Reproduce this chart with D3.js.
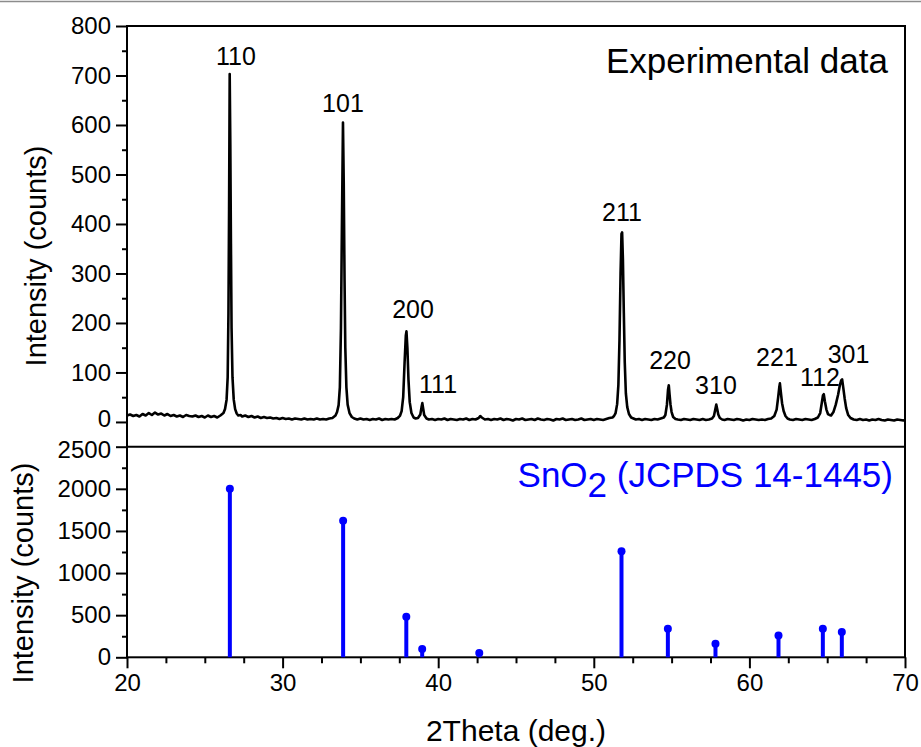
<!DOCTYPE html>
<html>
<head>
<meta charset="utf-8">
<script src="https://cdn.jsdelivr.net/npm/d3@7"></script>
<style>
  body { margin: 0; background: #fff; }
  svg { font-family: "Liberation Sans", Arial, sans-serif; }
  .axis path, .axis line { stroke: #000; stroke-width: 2; }
  .axis text { font-size: 24px; fill: #000; }
</style>
</head>
<body>
<svg id="chart" width="921" height="747"></svg>
<script>
// Experimental XRD pattern [2theta, counts]
const expData = [
  [20.0, 13], [20.2, 15], [20.4, 12], [20.6, 14], [20.8, 11], [21.0, 16], [21.2, 13], [21.4, 18],
  [21.6, 14], [21.8, 19], [22.0, 15], [22.2, 17], [22.4, 13], [22.6, 16], [22.8, 12], [23.0, 14],
  [23.2, 11], [23.4, 13], [23.6, 10], [23.8, 14], [24.0, 12], [24.2, 11], [24.4, 13], [24.6, 10],
  [24.8, 12], [25.0, 9], [25.2, 13], [25.4, 10], [25.6, 12], [25.8, 9], [26.0, 13], [26.2, 18],
  [26.3, 26], [26.4, 45], [26.47, 90], [26.52, 220], [26.56, 430], [26.6, 703], [26.64, 560],
  [26.68, 360], [26.72, 190], [26.78, 90], [26.86, 45], [26.95, 26], [27.05, 17], [27.15, 13],
  [27.3, 14], [27.4, 11], [27.6, 13], [27.8, 10], [28.0, 12], [28.2, 9], [28.4, 11], [28.6, 8],
  [28.8, 10], [29.0, 8], [29.2, 9], [29.4, 7], [29.6, 8], [29.8, 6], [30.0, 8], [30.2, 6],
  [30.4, 7], [30.6, 5], [30.8, 7], [31.0, 6], [31.2, 5], [31.4, 7], [31.6, 5], [31.8, 6],
  [32.0, 5], [32.2, 7], [32.4, 5], [32.6, 6], [32.8, 5], [33.0, 7], [33.2, 8], [33.4, 13],
  [33.5, 20], [33.6, 34], [33.68, 70], [33.75, 190], [33.81, 390], [33.88, 605], [33.93, 480],
  [33.98, 290], [34.03, 150], [34.1, 70], [34.18, 35], [34.3, 18], [34.45, 10], [34.6, 7],
  [34.8, 5], [35.0, 7], [35.2, 5], [35.4, 6], [35.6, 4], [35.8, 6], [36.0, 5], [36.2, 7],
  [36.4, 4], [36.6, 6], [36.8, 5], [37.0, 6], [37.2, 5], [37.4, 8], [37.55, 13],
  [37.65, 22], [37.75, 50], [37.84, 120], [37.92, 175], [37.96, 183], [38.02, 150], [38.09, 85],
  [38.17, 40], [38.28, 18], [38.42, 9], [38.55, 7], [38.7, 8], [38.85, 15], [38.93, 30], [38.98, 38],
  [39.03, 28], [39.1, 14], [39.25, 7], [39.4, 5], [39.6, 6], [39.8, 4], [40.0, 6], [40.2, 5],
  [40.4, 7], [40.6, 4], [40.8, 6], [41.0, 5], [41.2, 4], [41.4, 6], [41.6, 5], [41.8, 7],
  [42.0, 4], [42.2, 6], [42.4, 5], [42.6, 8], [42.7, 12], [42.8, 9], [43.0, 5], [43.2, 6],
  [43.4, 4], [43.6, 6], [43.8, 5], [44.0, 7], [44.2, 4], [44.4, 6], [44.6, 5], [44.8, 3],
  [45.0, 6], [45.2, 5], [45.4, 7], [45.6, 4], [45.8, 5], [46.0, 6], [46.2, 4], [46.4, 7],
  [46.6, 5], [46.8, 4], [47.0, 6], [47.2, 5], [47.4, 3], [47.6, 6], [47.8, 5], [48.0, 7],
  [48.2, 4], [48.4, 5], [48.6, 6], [48.8, 4], [49.0, 5], [49.2, 7], [49.4, 4], [49.6, 5],
  [49.8, 6], [50.0, 4], [50.2, 6], [50.4, 5], [50.6, 4], [50.8, 6], [51.0, 8], [51.2, 9],
  [51.3, 12], [51.4, 18], [51.5, 36], [51.58, 75], [51.65, 165], [51.72, 300], [51.78, 380],
  [51.82, 383], [51.87, 330], [51.93, 220], [51.99, 120], [52.06, 58], [52.15, 30], [52.26, 16],
  [52.4, 9], [52.55, 7], [52.7, 5], [52.9, 6], [53.1, 4], [53.3, 6], [53.5, 5], [53.7, 4], [53.9, 6],
  [54.1, 5], [54.3, 7], [54.5, 9], [54.6, 14], [54.7, 35], [54.77, 65], [54.82, 74],
  [54.87, 55], [54.93, 35], [55.0, 20], [55.1, 10], [55.25, 6], [55.4, 5], [55.6, 4],
  [55.8, 6], [56.0, 5], [56.2, 4], [56.4, 6], [56.6, 5], [56.8, 4], [57.0, 6], [57.2, 4],
  [57.4, 5], [57.6, 7], [57.72, 12], [57.8, 24], [57.87, 35], [57.93, 26], [58.0, 15],
  [58.1, 8], [58.25, 5], [58.4, 4], [58.6, 6], [58.8, 5], [59.0, 4], [59.2, 6], [59.4, 5],
  [59.6, 3], [59.8, 5], [60.0, 4], [60.2, 6], [60.4, 5], [60.6, 4], [60.8, 5], [61.0, 4],
  [61.2, 6], [61.4, 7], [61.6, 12], [61.75, 25], [61.85, 50], [61.92, 70], [61.96, 78],
  [62.02, 60], [62.1, 38], [62.2, 22], [62.32, 12], [62.45, 7], [62.6, 5], [62.8, 4],
  [63.0, 6], [63.2, 5], [63.4, 4], [63.6, 6], [63.8, 5], [64.0, 4], [64.2, 6], [64.4, 9],
  [64.55, 18], [64.65, 38], [64.73, 54], [64.78, 56], [64.85, 42], [64.95, 25], [65.05, 16],
  [65.15, 14], [65.25, 13], [65.4, 20], [65.55, 35], [65.7, 55], [65.82, 75], [65.9, 84],
  [65.96, 86], [66.03, 70], [66.12, 48], [66.22, 28], [66.35, 14], [66.5, 8], [66.7, 5],
  [66.9, 4], [67.1, 6], [67.3, 4], [67.5, 5], [67.7, 3], [67.9, 5], [68.1, 4], [68.3, 6],
  [68.5, 4], [68.7, 3], [68.9, 5], [69.1, 4], [69.3, 3], [69.5, 5], [69.7, 4], [69.9, 3], [70.0, 4]
];

// Peak labels (hkl) and where they sit, in data coordinates
const hklLabels = ["110", "101", "200", "111", "211", "220", "310", "221", "112", "301"];
const hklTheta  = [27.0, 33.88, 38.38, 39.99, 51.81, 54.9, 57.85, 61.77, 64.54, 66.37];
const hklCounts = [721, 627, 210, 58, 406, 106, 56, 113, 73, 120];

// SnO2 reference pattern (JCPDS 14-1445)
const refTheta  = [26.61, 33.89, 37.95, 38.97, 42.64, 51.78, 54.76, 57.82, 61.87, 64.72, 65.94];
const refCounts = [2000, 1620, 480, 100, 50, 1260, 340, 160, 260, 340, 300];

const xTicks = [20, 30, 40, 50, 60, 70];
const topTicks = [0, 100, 200, 300, 400, 500, 600, 700, 800];
const botTicks = [0, 500, 1000, 1500, 2000, 2500];

const left = 127, right = 905;
const topY0 = 26, split = 446.7, botY1 = 657.3;

const svg = d3.select("#chart");

// thin grey border line at very top of the picture
svg.append("line")
  .attr("x1", 0).attr("x2", 921).attr("y1", 1.5).attr("y2", 1.5)
  .attr("stroke", "#8c8c8c").attr("stroke-width", 1.5);

const x = d3.scaleLinear().domain([20, 70]).range([left, right]);
const yTop = d3.scaleLinear().domain([-50, 800]).range([split, topY0]);
const yBot = d3.scaleLinear().domain([0, 2500]).range([botY1, split]);
const fmt = d3.format("d");

// Top panel axes
svg.append("g")
  .attr("class", "axis")
  .attr("transform", `translate(${left},0)`)
  .call(d3.axisLeft(yTop).tickValues(topTicks).tickFormat(fmt).tickSize(11).tickPadding(5).tickSizeOuter(0))
  .call(g => g.select(".domain").remove())
  .call(g => g.selectAll(".tick text").filter(d => d === 0).attr("dy", "0.2em"));

svg.append("g")
  .attr("class", "axis")
  .attr("transform", `translate(${left},0)`)
  .call(d3.axisLeft(yTop).tickValues(d3.range(50, 800, 100)).tickSize(5).tickFormat(""))
  .call(g => g.select(".domain").remove());

// Bottom panel axes
svg.append("g")
  .attr("class", "axis")
  .attr("transform", `translate(${left},0)`)
  .call(d3.axisLeft(yBot).tickValues(botTicks).tickFormat(fmt).tickSize(11).tickPadding(5).tickSizeOuter(0))
  .call(g => g.select(".domain").remove())
  .call(g => g.selectAll(".tick text").filter(d => d === 2500).attr("dy", "0.45em"));

svg.append("g")
  .attr("class", "axis")
  .attr("transform", `translate(${left},0)`)
  .call(d3.axisLeft(yBot).tickValues(d3.range(250, 2500, 500)).tickSize(5).tickFormat(""))
  .call(g => g.select(".domain").remove());

svg.append("g")
  .attr("class", "axis")
  .attr("transform", `translate(0,${botY1})`)
  .call(d3.axisBottom(x).tickValues(xTicks).tickFormat(fmt).tickSize(11).tickPadding(6).tickSizeOuter(0))
  .call(g => g.select(".domain").remove());

svg.append("g")
  .attr("class", "axis")
  .attr("transform", `translate(0,${botY1})`)
  .call(d3.axisBottom(x).tickValues(d3.range(22.5, 70, 2.5).filter(v => v % 10 !== 0)).tickSize(6).tickFormat(""))
  .call(g => g.select(".domain").remove());

// Frames
svg.append("rect")
  .attr("x", left).attr("y", topY0)
  .attr("width", right - left).attr("height", botY1 - topY0)
  .attr("fill", "none").attr("stroke", "#000").attr("stroke-width", 2);

svg.append("line")
  .attr("x1", left).attr("x2", right).attr("y1", split).attr("y2", split)
  .attr("stroke", "#000").attr("stroke-width", 2);

// Experimental curve
const line = d3.line()
  .x(d => x(d[0]))
  .y(d => yTop(d[1]));

svg.append("path")
  .datum(expData)
  .attr("d", line)
  .attr("fill", "none")
  .attr("stroke", "#000")
  .attr("stroke-width", 2.6)
  .attr("stroke-linejoin", "round");

// hkl labels
svg.append("g")
  .selectAll("text")
  .data(hklLabels)
  .join("text")
  .attr("x", (d, i) => x(hklTheta[i]))
  .attr("y", (d, i) => yTop(hklCounts[i]))
  .attr("text-anchor", "middle")
  .attr("font-size", "25px")
  .text(d => d);

svg.append("text")
  .attr("x", 888)
  .attr("y", 73)
  .attr("text-anchor", "end")
  .attr("font-size", "35px")
  .text("Experimental data");

// Reference sticks
const refs = refTheta.map((t, i) => ({ t: t, c: refCounts[i] }));

svg.append("g")
  .selectAll("line")
  .data(refs)
  .join("line")
  .attr("x1", d => x(d.t)).attr("x2", d => x(d.t))
  .attr("y1", d => yBot(0)).attr("y2", d => yBot(d.c))
  .attr("stroke", "#0000ff")
  .attr("stroke-width", 4);

svg.append("g")
  .selectAll("circle")
  .data(refs)
  .join("circle")
  .attr("cx", d => x(d.t))
  .attr("cy", d => yBot(d.c))
  .attr("r", 4)
  .attr("fill", "#0000ff");

const legend = svg.append("text")
  .attr("x", 893)
  .attr("y", 487)
  .attr("text-anchor", "end")
  .attr("font-size", "35px")
  .attr("fill", "#0000ff");
legend.append("tspan").text("SnO");
legend.append("tspan").attr("dy", 10).text("2");
legend.append("tspan").attr("dy", -10).text(" (JCPDS 14-1445)");

// Axis titles
svg.append("text")
  .attr("transform", `translate(46,256) rotate(-90)`)
  .attr("text-anchor", "middle")
  .attr("font-size", "29px")
  .text("Intensity (counts)");

svg.append("text")
  .attr("transform", `translate(33,573) rotate(-90)`)
  .attr("text-anchor", "middle")
  .attr("font-size", "29px")
  .text("Intensity (counts)");

svg.append("text")
  .attr("x", 516)
  .attr("y", 741)
  .attr("text-anchor", "middle")
  .attr("font-size", "30px")
  .text("2Theta (deg.)");
</script>
</body>
</html>
